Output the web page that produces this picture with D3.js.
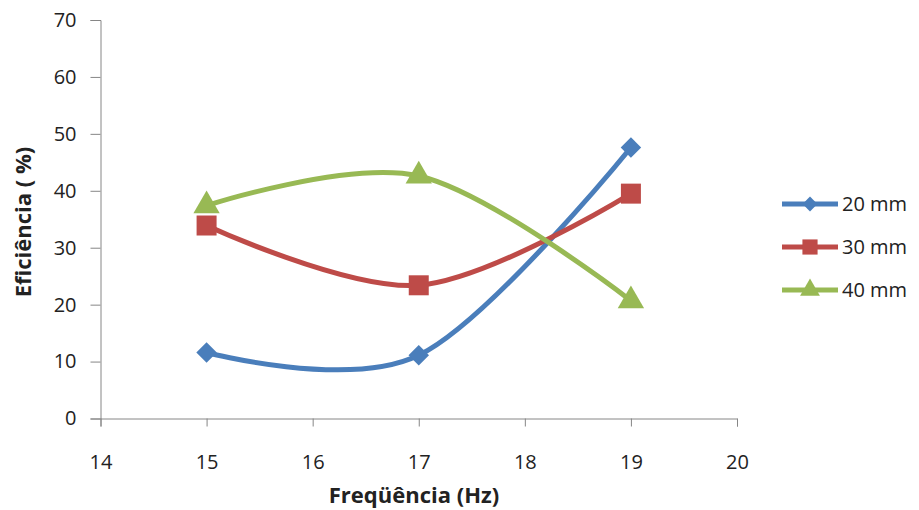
<!DOCTYPE html>
<html><head><meta charset="utf-8">
<script src="https://cdn.jsdelivr.net/npm/d3@7"></script>
<style>body{margin:0;background:#fff;} text{font-family:"Open Sans",Lato,sans-serif;}</style>
</head><body>
<svg id="c" width="919" height="510"></svg>
<script>
const xValues = [15, 17, 19];
const s20 = [11.6, 11.1, 47.6];
const s30 = [33.9, 23.4, 39.5];
const s40 = [37.4, 42.6, 20.7];
const seriesNames = ["20 mm", "30 mm", "40 mm"];
const xTicks = [14, 15, 16, 17, 18, 19, 20];
const yTicks = [0, 10, 20, 30, 40, 50, 60, 70];

const series = [
  {name: seriesNames[0], values: s20, color: "#4A7EBB", marker: "diamond"},
  {name: seriesNames[1], values: s30, color: "#BE4B48", marker: "square"},
  {name: seriesNames[2], values: s40, color: "#98B954", marker: "triangle"}
];
const symType = {diamond: d3.symbolSquare, square: d3.symbolSquare, triangle: d3.symbolTriangle};
const symRot = {diamond: 45, square: 0, triangle: 0};
const markerSize = {diamond: 210, square: 400, triangle: 300};
const legendMarkerSize = {diamond: 110, square: 230, triangle: 170};

const svg = d3.select("#c");
const x = d3.scaleLinear().domain([14, 20]).range([100.5, 737]);
const y = d3.scaleLinear().domain([0, 70]).range([418.5, 20]);
const axisColor = "#868686";

// y axis
const ya = svg.append("g").attr("transform", `translate(${x(14)},0)`)
  .call(d3.axisLeft(y).tickValues(yTicks).tickFormat(d3.format("d")).tickSize(10).tickPadding(14));
ya.select(".domain").attr("stroke", axisColor);
ya.selectAll(".tick line").attr("stroke", axisColor);
ya.selectAll(".tick text").attr("font-size", 20).attr("fill", "#222");

// x axis
const xa = svg.append("g").attr("transform", `translate(0,${y(0)})`)
  .call(d3.axisBottom(x).tickValues(xTicks).tickFormat(d3.format("d")).tickSize(8).tickPadding(28));
xa.select(".domain").attr("stroke", axisColor);
xa.selectAll(".tick line").attr("stroke", axisColor);
xa.selectAll(".tick text").attr("font-size", 20).attr("fill", "#222");

const line = d3.line().x(d => x(d[0])).y(d => y(d[1])).curve(d3.curveCatmullRom.alpha(0));

series.forEach(s => {
  const pts = xValues.map((xv, i) => [xv, s.values[i]]);
  svg.append("path").datum(pts).attr("d", line)
    .attr("fill", "none").attr("stroke", s.color).attr("stroke-width", 5)
    .attr("stroke-linecap", "round");
  const sym = d3.symbol().type(symType[s.marker]).size(markerSize[s.marker]);
  svg.selectAll(null).data(pts).enter().append("path")
    .attr("d", sym)
    .attr("transform", d => `translate(${x(d[0])},${y(d[1])}) rotate(${symRot[s.marker]})`)
    .attr("fill", s.color);
});

// legend
const legY = [204, 247, 290];
series.forEach((s, i) => {
  const g = svg.append("g").attr("transform", `translate(0,${legY[i]})`);
  g.append("line").attr("x1", 782).attr("x2", 838).attr("y1", 0).attr("y2", 0)
    .attr("stroke", s.color).attr("stroke-width", 5);
  g.append("path").attr("d", d3.symbol().type(symType[s.marker]).size(legendMarkerSize[s.marker]))
    .attr("transform", `translate(810,0) rotate(${symRot[s.marker]})`).attr("fill", s.color);
  g.append("text").attr("x", 842).attr("y", 0).attr("dy", "0.36em")
    .attr("font-size", 20).attr("fill", "#222").text(s.name);
});

// axis titles
svg.append("text").attr("transform", "translate(31,222) rotate(-90)")
  .attr("text-anchor", "middle").attr("font-size", 22).attr("font-weight", "bold")
  .attr("fill", "#222").text("Eficiência ( %)");
svg.append("text").attr("x", 414).attr("y", 503)
  .attr("text-anchor", "middle").attr("font-size", 22).attr("font-weight", "bold")
  .attr("fill", "#222").text("Freqüência (Hz)");
</script>
</body></html>
